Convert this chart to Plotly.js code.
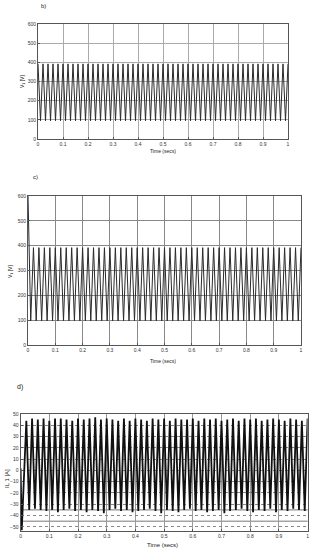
<!DOCTYPE html>
<html>
<head>
<meta charset="utf-8">
<script src="https://cdn.plot.ly/plotly-3.0.1.min.js"></script>
<style>html,body{margin:0;padding:0;background:#fff}#chart{width:311px;height:550px}</style>
</head>
<body>
<div id="chart"></div>
<script>
// ---- data ----
const xTicks = [0, 0.1, 0.2, 0.3, 0.4, 0.5, 0.6, 0.7, 0.8, 0.9, 1];
const xTickText = ["0", "0.1", "0.2", "0.3", "0.4", "0.5", "0.6", "0.7", "0.8", "0.9", "1"];

// time samples for panels b) and c) (s)
const tV = [0,0.01,0.02,0.03,0.04,0.05,0.06,0.07,0.08,0.09,
  0.1,0.11,0.12,0.13,0.14,0.15,0.16,0.17,0.18,0.19,
  0.2,0.21,0.22,0.23,0.24,0.25,0.26,0.27,0.28,0.29,
  0.3,0.31,0.32,0.33,0.34,0.35,0.36,0.37,0.38,0.39,
  0.4,0.41,0.42,0.43,0.44,0.45,0.46,0.47,0.48,0.49,
  0.5,0.51,0.52,0.53,0.54,0.55,0.56,0.57,0.58,0.59,
  0.6,0.61,0.62,0.63,0.64,0.65,0.66,0.67,0.68,0.69,
  0.7,0.71,0.72,0.73,0.74,0.75,0.76,0.77,0.78,0.79,
  0.8,0.81,0.82,0.83,0.84,0.85,0.86,0.87,0.88,0.89,
  0.9,0.91,0.92,0.93,0.94,0.95,0.96,0.97,0.98,0.99,1];

// b) V1 [V]
const vB = [392,95,392,95,392,95,392,95,392,95,
  392,95,392,95,392,95,392,95,392,95,
  392,95,392,95,392,95,392,95,392,95,
  392,95,392,95,392,95,392,95,392,95,
  392,95,392,95,392,95,392,95,392,95,
  392,95,392,95,392,95,392,95,392,95,
  392,95,392,95,392,95,392,95,392,95,
  392,95,392,95,392,95,392,95,392,95,
  392,95,392,95,392,95,392,95,392,95,
  392,95,392,95,392,95,392,95,392,95,392];

// c) V1 [V] (start-up spike at t = 0)
const vC = [600,97,392,97,392,97,392,97,392,97,
  392,97,392,97,392,97,392,97,392,97,
  392,97,392,97,392,97,392,97,392,97,
  392,97,392,97,392,97,392,97,392,97,
  392,97,392,97,392,97,392,97,392,97,
  392,97,392,97,392,97,392,97,392,97,
  392,97,392,97,392,97,392,97,392,97,
  392,97,392,97,392,97,392,97,392,97,
  392,97,392,97,392,97,392,97,392,97,
  392,97,392,97,392,97,392,97,392,97,392];

// d) IL 1 [A]
const tD = [0,0.004,0.02,0.03,0.04,0.05,0.06,0.07,0.08,0.09,
  0.1,0.11,0.12,0.13,0.14,0.15,0.16,0.17,0.18,0.19,
  0.2,0.21,0.22,0.23,0.24,0.25,0.26,0.27,0.28,0.29,
  0.3,0.31,0.32,0.33,0.34,0.35,0.36,0.37,0.38,0.39,
  0.4,0.41,0.42,0.43,0.44,0.45,0.46,0.47,0.48,0.49,
  0.5,0.51,0.52,0.53,0.54,0.55,0.56,0.57,0.58,0.59,
  0.6,0.61,0.62,0.63,0.64,0.65,0.66,0.67,0.68,0.69,
  0.7,0.71,0.72,0.73,0.74,0.75,0.76,0.77,0.78,0.79,
  0.8,0.81,0.82,0.83,0.84,0.85,0.86,0.87,0.88,0.89,
  0.9,0.91,0.92,0.93,0.94,0.95,0.96,0.97,0.98,0.99,1];
const iD = [2,-53,44,-35,46,-34,45,-35,46,-36,
  44,-35,46,-37,46,-35,45,-34,44,-36,
  46,-35,45,-37,46,-35,47,-36,45,-38,
  46,-35,45,-34,44,-36,46,-35,44,-37,
  46,-36,45,-35,44,-34,46,-36,45,-38,
  46,-35,44,-36,46,-37,45,-35,45,-34,
  46,-36,44,-35,46,-37,45,-36,46,-35,
  44,-38,45,-36,46,-35,44,-34,46,-36,
  45,-37,46,-35,44,-36,45,-34,46,-37,
  45,-35,44,-36,46,-34,45,-35,44,-36,46];
const refLinesD = [-35, -45];   // solid horizontal lines in panel d)

// ---- figure ----
const W = 311, H = 550;
const px = v => v / W, py = v => 1 - v / H;
const FONT = "Liberation Sans, Arial, sans-serif";

const traces = [
  {x: tV, y: vB, xaxis: 'x', yaxis: 'y', type: 'scatter', mode: 'lines',
   line: {color: '#2a2a2a', width: 1}, hoverinfo: 'skip'},
  {x: tV, y: vC, xaxis: 'x2', yaxis: 'y2', type: 'scatter', mode: 'lines',
   line: {color: '#2a2a2a', width: 1}, hoverinfo: 'skip'},
  {x: tD, y: iD, xaxis: 'x3', yaxis: 'y3', type: 'scatter', mode: 'lines',
   line: {color: '#111', width: 1.8}, hoverinfo: 'skip'}
];

function xax(domain, anchor, grid) {
  return {domain: domain, anchor: anchor, range: [0, 1], tickvals: xTicks, ticktext: xTickText,
    showgrid: true, gridcolor: grid, gridwidth: 1, zeroline: false,
    showline: true, linecolor: '#555', linewidth: 1, mirror: true,
    ticks: 'inside', ticklen: 2, tickcolor: '#555',
    tickfont: {family: FONT, size: 5, color: '#333'}, automargin: false};
}
function yax(domain, anchor, range, dtick, grid, extra) {
  return Object.assign({domain: domain, anchor: anchor, range: range, dtick: dtick, tick0: 0,
    showgrid: true, gridcolor: grid, gridwidth: 1, zeroline: false,
    showline: true, linecolor: '#555', linewidth: 1, mirror: true,
    ticks: 'inside', ticklen: 2, tickcolor: '#555',
    tickfont: {family: FONT, size: 5, color: '#333'}, automargin: false}, extra || {});
}

const shapes = refLinesD.map(v => ({type: 'line', xref: 'x3 domain', yref: 'y3', x0: 0, x1: 1, y0: v, y1: v,
  layer: 'below', line: {color: '#777', width: 1}}));

function ann(text, x, y, size, angle) {
  return {text: text, xref: 'paper', yref: 'paper', x: px(x), y: py(y), showarrow: false,
    xanchor: 'center', yanchor: 'middle', textangle: angle || 0,
    font: {family: FONT, size: size, color: '#222'}};
}

const layout = {
  width: W, height: H, margin: {l: 0, r: 0, t: 0, b: 0},
  paper_bgcolor: '#fff', plot_bgcolor: '#fff', showlegend: false,
  xaxis: xax([px(38), px(288)], 'y', '#aaa'),
  yaxis: yax([py(139), py(24)], 'x', [0, 600], 100, '#aaa'),
  xaxis2: xax([px(28), px(301)], 'y2', '#888'),
  yaxis2: yax([py(345), py(196)], 'x2', [0, 600], 100, '#888'),
  xaxis3: xax([px(20.6), px(307.6)], 'y3', '#999'),
  yaxis3: yax([py(531), py(414)], 'x3', [-53.7, 50], 10, '#888', {griddash: 'dot'}),
  shapes: shapes,
  annotations: [
    ann('b)', 43, 6, 6),
    ann('c)', 35, 177, 6),
    ann('d)', 20, 387, 7),
    ann('V<sub>1</sub> [V]', 23, 82, 5, -90),
    ann('V<sub>1</sub> [V]', 10, 272, 5, -90),
    ann('IL 1 [A]', 7, 479, 6, -90),
    ann('Time (secs)', 163, 151, 5),
    ann('Time (secs)', 163, 361, 5),
    ann('Time (secs)', 162, 545, 6)
  ]
};

Plotly.newPlot('chart', traces, layout, {staticPlot: true, displayModeBar: false});
</script>
</body>
</html>
